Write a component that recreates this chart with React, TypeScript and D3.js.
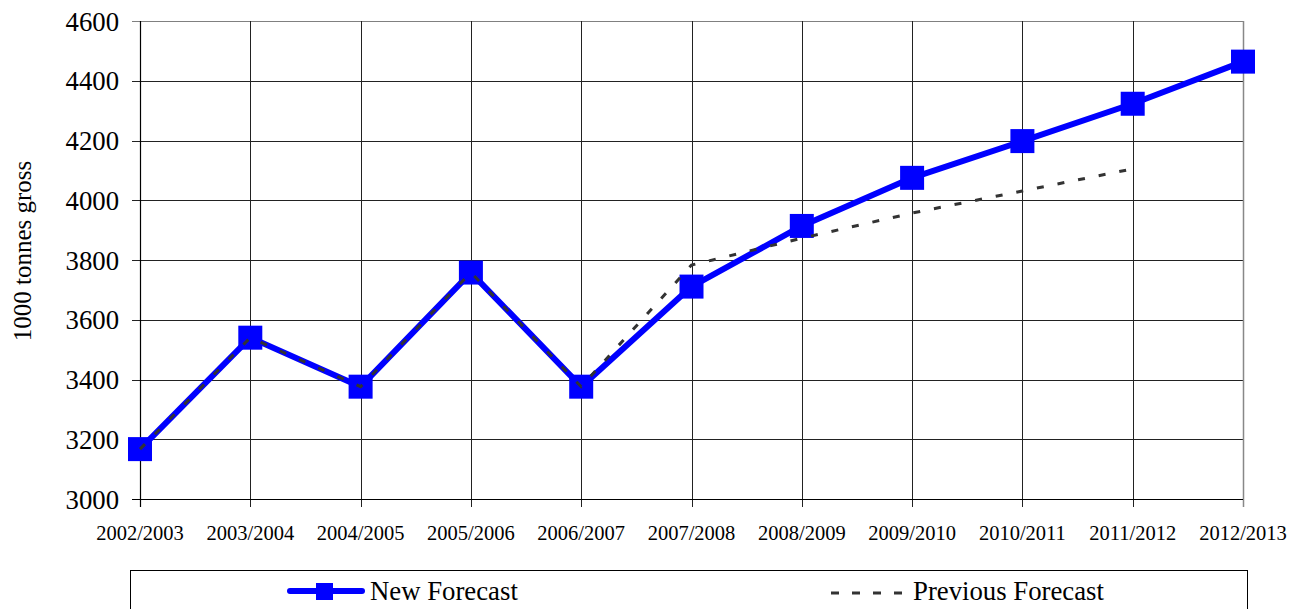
import React from "react";
import * as d3 from "d3";

const categories = [
  "2002/2003", "2003/2004", "2004/2005", "2005/2006", "2006/2007", "2007/2008",
  "2008/2009", "2009/2010", "2010/2011", "2011/2012", "2012/2013",
];
const newForecast = [3167, 3540, 3376, 3758, 3376, 3711, 3914, 4075, 4198, 4323, 4464];
const previousForecast = [3167, 3540, 3376, 3758, 3376, 3783, 3873, 3957, 4031, 4105];
const yTicks = [3000, 3200, 3400, 3600, 3800, 4000, 4200, 4400, 4600];

const W = 1291;
const H = 609;
const FONT = "'Liberation Serif', 'Times New Roman', Times, serif";
const tStyle = { fontFamily: FONT } as React.CSSProperties;
const BIG = 25;
const BIG_SCALE = 1.07;

export default function App() {
  const x = d3.scalePoint<string>().domain(categories).range([140, 1243]);
  const y = d3.scaleLinear().domain([3000, 4600]).range([499, 21]);

  const line = d3
    .line<number>()
    .x((_, i) => x(categories[i]) as number)
    .y((d) => y(d));

  const crisp = (v: number) => Math.round(v) + 0.5;

  return (
    <svg
      width={W}
      height={H}
      style={{ position: "absolute", left: 0, top: 0, display: "block", background: "#fff", fontFamily: FONT }}
    >
      <rect x={0} y={0} width={W} height={H} fill="#fff" />
      {yTicks.map((t) => (
        <g key={t}>
          <line
            x1={132}
            x2={1243}
            y1={crisp(y(t))}
            y2={crisp(y(t))}
            stroke={t === 4600 ? "#808080" : "#222"}
            strokeWidth={1}
          />
          <text
            transform={`translate(119,${y(t) + 9.5}) scale(${BIG_SCALE})`}
            textAnchor="end"
            fontSize={BIG}
            fill="#000"
            style={tStyle}
          >
            {t}
          </text>
        </g>
      ))}
      {categories.map((c, i) => (
        <g key={c}>
          <line
            x1={crisp(x(c) as number)}
            x2={crisp(x(c) as number)}
            y1={21}
            y2={507}
            stroke={i === categories.length - 1 ? "#888" : "#222"}
            strokeWidth={i === categories.length - 1 ? 1.5 : 1}
          />
          <text x={x(c) as number} y={540} textAnchor="middle" fontSize={20.5} fill="#000" style={tStyle}>
            {c}
          </text>
        </g>
      ))}
      <line x1={crisp(140)} x2={crisp(140)} y1={21} y2={507} stroke="#000" strokeWidth={1.2} />
      <line x1={132} x2={1243} y1={crisp(499)} y2={crisp(499)} stroke="#000" strokeWidth={1.2} />

      <text
        transform={`translate(31,251) rotate(-90)`}
        textAnchor="middle"
        fontSize={25}
        fill="#000"
        style={tStyle}
      >
        1000 tonnes gross
      </text>

      <path
        d={line(newForecast) || ""}
        fill="none"
        stroke="#0000FF"
        strokeWidth={6}
        strokeLinejoin="round"
      />
      {newForecast.map((v, i) => (
        <rect
          key={i}
          x={(x(categories[i]) as number) - 12}
          y={y(v) - 12}
          width={24}
          height={24}
          fill="#0000FF"
        />
      ))}

      <path
        d={line(previousForecast) || ""}
        fill="none"
        stroke="#333333"
        strokeWidth={3}
        strokeDasharray="7,14"
      />

      <rect x={130.5} y={570.5} width={1117} height={50} fill="#fff" stroke="#000" strokeWidth={1} />
      <line x1={290} x2={362} y1={591} y2={591} stroke="#0000FF" strokeWidth={6} strokeLinecap="round" />
      <rect x={316} y={583} width={17} height={17} fill="#0000FF" />
      <text transform={`translate(370,600) scale(${BIG_SCALE})`} fontSize={BIG} fill="#000" style={tStyle}>
        New Forecast
      </text>
      <line
        x1={831}
        x2={903}
        y1={593}
        y2={593}
        stroke="#333333"
        strokeWidth={3}
        strokeDasharray="8,13"
      />
      <text transform={`translate(913,600) scale(${BIG_SCALE})`} fontSize={BIG} fill="#000" style={tStyle}>
        Previous Forecast
      </text>
    </svg>
  );
}
